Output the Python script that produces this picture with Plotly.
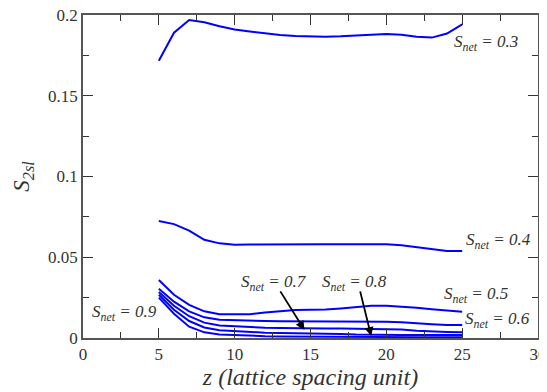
import plotly.graph_objects as go

z = list(range(5, 26))

s03 = [0.1717, 0.1890, 0.1969, 0.1955, 0.1930, 0.1910, 0.1898, 0.1886, 0.1876, 0.1870, 0.1866,
       0.1866, 0.1868, 0.1872, 0.1878, 0.1882, 0.1878, 0.1866, 0.1860, 0.1885, 0.1942]
s04 = [0.0724, 0.0705, 0.0665, 0.0608, 0.0586, 0.0578, 0.0579, 0.0580, 0.0580, 0.0580, 0.0580,
       0.0580, 0.0580, 0.0580, 0.0580, 0.0580, 0.0574, 0.0563, 0.0548, 0.0539, 0.0539]
s05 = [0.0359, 0.0268, 0.0205, 0.0165, 0.0147, 0.0145, 0.0147, 0.0158, 0.0167, 0.0173, 0.0175,
       0.0176, 0.0183, 0.0193, 0.0200, 0.0200, 0.0196, 0.0188, 0.0178, 0.0168, 0.0162]
s06 = [0.0305, 0.0225, 0.0165, 0.0128, 0.0113, 0.0109, 0.0106, 0.0105, 0.0104, 0.0104, 0.0104,
       0.0103, 0.0103, 0.0102, 0.0102, 0.0101, 0.0097, 0.0090, 0.0085, 0.0081, 0.0080]
s07 = [0.0285, 0.0200, 0.0135, 0.0095, 0.0078, 0.0072, 0.0066, 0.0063, 0.0062, 0.0060, 0.0060,
       0.0059, 0.0059, 0.0058, 0.0058, 0.0057, 0.0052, 0.0045, 0.0040, 0.0037, 0.0035]
s08 = [0.0268, 0.0175, 0.0105, 0.0065, 0.0048, 0.0042, 0.0036, 0.0033, 0.0031, 0.0030, 0.0029,
       0.0027, 0.0024, 0.0021, 0.0019, 0.0019, 0.0019, 0.0018, 0.0018, 0.0018, 0.0018]
s09 = [0.0250, 0.0150, 0.0070, 0.0035, 0.0022, 0.0017, 0.0013, 0.0011, 0.0010, 0.0009, 0.0008,
       0.0008, 0.0007, 0.0007, 0.0006, 0.0006, 0.0006, 0.0005, 0.0005, 0.0005, 0.0005]

series = [s03, s04, s05, s06, s07, s08, s09]

x_ticks = [0, 5, 10, 15, 20, 25, 30]
y_ticks = [0, 0.05, 0.1, 0.15, 0.2]
y_tick_labels = ["0", "0.05", "0.1", "0.15", "0.2"]

label_values = ["0.3", "0.4", "0.5", "0.6", "0.9"]
label_x = [26.6, 27.4, 25.9, 27.3, 2.75]
label_y = [0.1825, 0.0600, 0.0268, 0.0112, 0.0155]

arrow_values = ["0.7", "0.8"]
arrow_tail_x = [12.6, 17.9]
arrow_tail_y = [0.0340, 0.0340]
arrow_head_x = [14.6, 19.0]
arrow_head_y = [0.0050, 0.0012]

FONT = "Liberation Serif, Times New Roman, serif"

fig = go.Figure()
for s in series:
    fig.add_trace(go.Scatter(x=z, y=s, mode="lines",
                             line=dict(color="#0000ff", width=2), showlegend=False,
                             hoverinfo="skip"))


def lab(v):
    return "<i>S</i><sub><i>net</i></sub><i> = " + v + "</i>"


for v, xx, yy in zip(label_values, label_x, label_y):
    fig.add_annotation(x=xx, y=yy, xref="x", yref="y", text=lab(v), showarrow=False,
                       font=dict(family=FONT, size=17, color="#333333"))

for v, tx, ty, hx, hy in zip(arrow_values, arrow_tail_x, arrow_tail_y, arrow_head_x, arrow_head_y):
    fig.add_annotation(x=tx, y=ty, xref="x", yref="y", text=lab(v), showarrow=False,
                       font=dict(family=FONT, size=17, color="#333333"))
    fig.add_annotation(x=hx, y=hy, xref="x", yref="y", ax=tx + 0.35, ay=ty - 0.0042,
                       axref="x", ayref="y", text="", showarrow=True,
                       arrowhead=2, arrowsize=1, arrowwidth=1.8, arrowcolor="black")

axis_common = dict(
    showline=True, linecolor="#555555", linewidth=1.5, mirror="ticks",
    ticks="inside", ticklen=10, tickwidth=1, tickcolor="#333333",
    showgrid=False, zeroline=False, automargin=False, ticklabeloverflow="allow",
    tickfont=dict(family=FONT, size=17, color="#333333"),
)

fig.update_xaxes(range=[0, 30], tickvals=x_ticks, **axis_common,
                 minor=dict(ticks="inside", ticklen=6, dtick=2.5, tick0=0,
                            tickcolor="#333333", showgrid=False),
                 title=dict(text="<i>z (lattice spacing unit)</i>",
                            font=dict(family=FONT, size=24, color="#333333"), standoff=2))
fig.update_yaxes(range=[0, 0.2], tickvals=y_ticks, ticktext=y_tick_labels, **axis_common,
                 minor=dict(ticks="inside", ticklen=6, dtick=0.025, tick0=0,
                            tickcolor="#333333", showgrid=False),
                 title=dict(text="<i>S</i><sub><i>2sl</i></sub>",
                            font=dict(family=FONT, size=23, color="#333333"), standoff=12))

# the page body has an 8px margin, so the figure is sized to fit the 547x392 window
fig.update_layout(width=539, height=384, plot_bgcolor="white", paper_bgcolor="white",
                  font=dict(family=FONT),
                  margin=dict(l=75, r=9, t=7, b=54))

fig.write_html("out.html")
